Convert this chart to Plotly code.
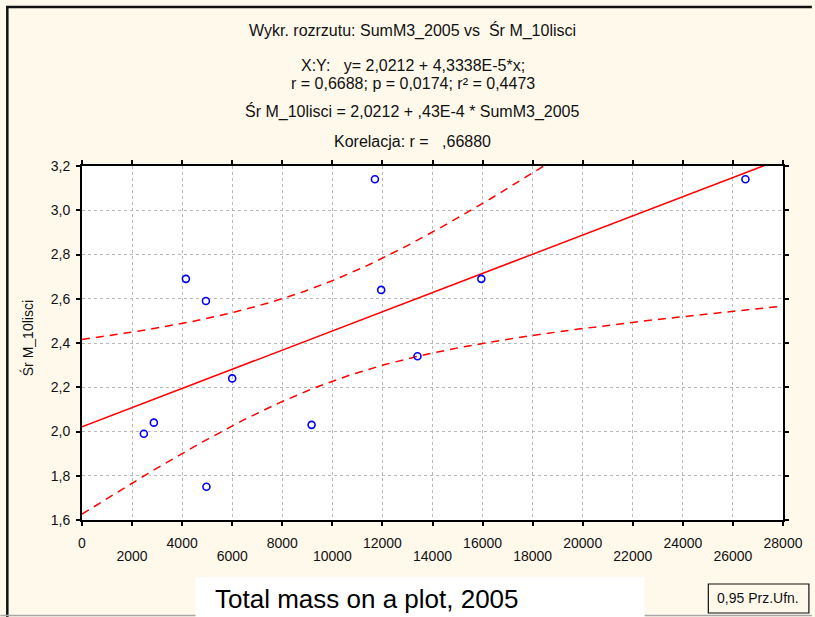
import numpy as np
import plotly.graph_objects as go

# Scatter data: total mass on a plot (SumM3_2005) vs mean mass of 10 leaves (Śr M_10lisci)
sum_m3_2005 = [2470, 2870, 4150, 4950, 4970, 6000, 9170, 11700, 11950, 13400, 15950, 26500]
sr_m_10lisci = [1.99, 2.04, 2.69, 2.59, 1.75, 2.24, 2.03, 3.14, 2.64, 2.34, 2.69, 3.14]

# Fitted regression line reported in the header
intercept = 2.0212
slope = 4.3338e-5
t_975_df10 = 2.228  # Student t quantile for a 0.95 confidence band, n-2 = 10 df

x_ticks_row1 = [0, 4000, 8000, 12000, 16000, 20000, 24000, 28000]
x_ticks_row2 = [2000, 6000, 10000, 14000, 18000, 22000, 26000]
y_ticks = [1.6, 1.8, 2.0, 2.2, 2.4, 2.6, 2.8, 3.0, 3.2]

header_lines = [
    "Wykr. rozrzutu: SumM3_2005 vs  Śr M_10lisci",
    "X:Y:   y= 2,0212 + 4,3338E-5*x;",
    "r = 0,6688; p = 0,0174; r² = 0,4473",
    "Śr M_10lisci = 2,0212 + ,43E-4 * SumM3_2005",
    "Korelacja: r =   ,66880",
]
header_y_px = [31, 65, 83, 112, 141]

# ---- regression + confidence band ----
x = np.array(sum_m3_2005, dtype=float)
y = np.array(sr_m_10lisci, dtype=float)
n = len(x)
resid = y - (intercept + slope * x)
s = np.sqrt(np.sum(resid ** 2) / (n - 2))
sxx = np.sum((x - x.mean()) ** 2)
xg = np.linspace(0, 28000, 281)
yg = intercept + slope * xg
half = t_975_df10 * s * np.sqrt(1.0 / n + (xg - x.mean()) ** 2 / sxx)

# ---- pixel geometry helpers ----
W, H = 815, 617
L, R, T, B = 82, 786, 166, 520
PW, PH = R - L, B - T


def px(xp):
    return (xp - L) / PW


def py(yp):
    return (B - yp) / PH


FONT = "Liberation Sans, Arial, sans-serif"
INK = "#111111"
RED = "#ff0000"

fig = go.Figure()
fig.add_trace(go.Scatter(x=xg, y=yg, mode="lines",
                         line=dict(color=RED, width=1.5), hoverinfo="skip"))
fig.add_trace(go.Scatter(x=xg, y=yg + half, mode="lines",
                         line=dict(color=RED, width=1.5, dash="8px,6px"), hoverinfo="skip"))
fig.add_trace(go.Scatter(x=xg, y=yg - half, mode="lines",
                         line=dict(color=RED, width=1.5, dash="8px,6px"), hoverinfo="skip"))
fig.add_trace(go.Scatter(x=sum_m3_2005, y=sr_m_10lisci, mode="markers",
                         marker=dict(symbol="circle-open", size=7, color="#0000ff",
                                     line=dict(width=1.6, color="#0000ff"))))
# carrier for the second row of x tick labels
fig.add_trace(go.Scatter(x=[0], y=[2.0], xaxis="x2", mode="markers",
                         marker=dict(opacity=0), hoverinfo="skip"))

grid_ticks = list(range(0, 28001, 2000))
fig.update_layout(
    width=W, height=H, autosize=False,
    margin=dict(l=L, r=W - R, t=T, b=H - B, pad=0),
    paper_bgcolor="#fff9ec",
    plot_bgcolor="#ffffff",
    showlegend=False,
    separators=",.",
    font=dict(family=FONT, size=14, color=INK),
    xaxis=dict(
        range=[0, 28000], tickmode="array", tickvals=grid_ticks,
        ticktext=[str(v) if v in x_ticks_row1 else "" for v in grid_ticks],
        ticks="outside", ticklen=4, tickwidth=1.5, tickcolor="#000",
        showline=True, linecolor="#000", linewidth=2, mirror="ticks",
        showgrid=True, gridcolor="#b8b8b8", griddash="dot", gridwidth=1,
        zeroline=False, tickfont=dict(size=14, color=INK), ticklabelstandoff=5,
    ),
    xaxis2=dict(
        range=[0, 28000], overlaying="x", anchor="y", side="bottom",
        tickmode="array", tickvals=x_ticks_row2, ticktext=[str(v) for v in x_ticks_row2],
        ticks="", showline=False, showgrid=False, zeroline=False,
        tickfont=dict(size=14, color=INK), ticklabelstandoff=26,
    ),
    yaxis=dict(
        range=[1.6, 3.2], tickmode="array", tickvals=y_ticks, tickformat=".1f",
        ticks="outside", ticklen=4, tickwidth=1.5, tickcolor="#000",
        showline=True, linecolor="#000", linewidth=2, mirror="ticks",
        showgrid=True, gridcolor="#b8b8b8", griddash="dot", gridwidth=1,
        zeroline=False, tickfont=dict(size=14, color=INK), ticklabelstandoff=3,
    ),
)

annotations = []
for text, yp in zip(header_lines, header_y_px):
    annotations.append(dict(text=text, x=px(414), y=py(yp), xref="paper", yref="paper",
                            xanchor="center", yanchor="middle", showarrow=False,
                            font=dict(family=FONT, size=16, color=INK)))
annotations.append(dict(text="Śr M_10lisci", x=px(27), y=py(338), xref="paper", yref="paper",
                        textangle=-90, xanchor="center", yanchor="middle", showarrow=False,
                        font=dict(family=FONT, size=14, color=INK)))
annotations.append(dict(text="Total mass on a plot, 2005", x=px(214), y=py(599),
                        xref="paper", yref="paper", xanchor="left", yanchor="middle",
                        showarrow=False, font=dict(family=FONT, size=26, color="#000")))
annotations.append(dict(text="0,95 Prz.Ufn.", x=px(761), y=py(598), xref="paper", yref="paper",
                        xanchor="center", yanchor="middle", showarrow=False,
                        font=dict(family=FONT, size=14, color=INK)))
fig.update_layout(annotations=annotations)

shapes = [
    # outer window frame
    dict(type="line", x0=px(6), x1=px(815), y0=py(7), y1=py(7), xref="paper", yref="paper",
         line=dict(color="#111", width=2.5)),
    dict(type="line", x0=px(7), x1=px(7), y0=py(6), y1=py(617), xref="paper", yref="paper",
         line=dict(color="#111", width=2.5)),
    dict(type="line", x0=px(0), x1=px(815), y0=py(615.5), y1=py(615.5), xref="paper", yref="paper",
         line=dict(color="#a8a8a8", width=1.5)),
    # axis caption panel
    dict(type="rect", x0=px(196), x1=px(647), y0=py(577), y1=py(618), xref="paper", yref="paper",
         fillcolor="#ffffff", line=dict(width=0), layer="above"),
    # confidence band key
    dict(type="rect", x0=px(711), x1=px(812), y0=py(584), y1=py(613), xref="paper", yref="paper",
         fillcolor="rgba(0,0,0,0)", line=dict(color="#111", width=1.2)),
]
fig.update_layout(shapes=shapes)

fig.write_html("out.html")
